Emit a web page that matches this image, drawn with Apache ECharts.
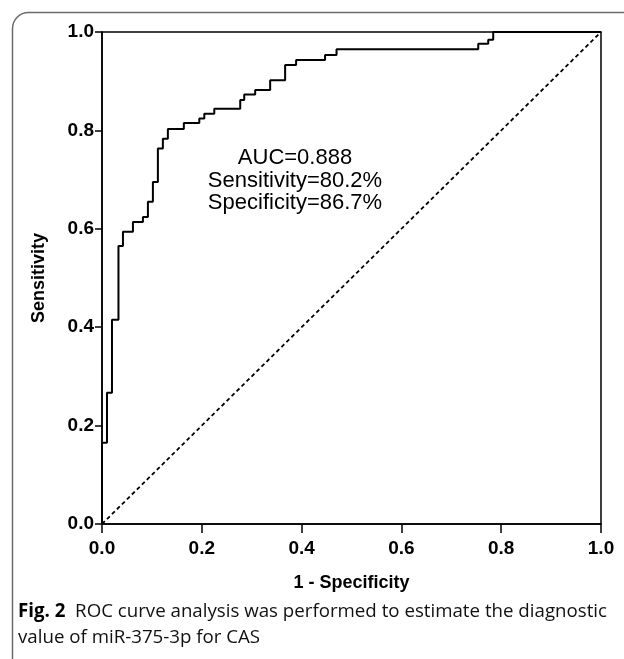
<!DOCTYPE html>
<html>
<head>
<meta charset="utf-8">
<script src="https://cdn.jsdelivr.net/npm/echarts@6/dist/echarts.min.js"></script>
<style>
html,body{margin:0;padding:0;background:#fff;}
#chart{width:624px;height:659px;}
</style>
</head>
<body>
<div id="chart"></div>
<script>
// ROC curve vertices (1 - Specificity, Sensitivity), step after each horizontal run
const rocFpr  = [0, 0, 0.010, 0.020, 0.033, 0.042, 0.062, 0.082, 0.092, 0.102, 0.112, 0.122, 0.132, 0.164, 0.195, 0.205, 0.225, 0.277, 0.285, 0.307, 0.337, 0.367, 0.389, 0.447, 0.470, 0.754, 0.774, 0.784, 1.0];
const rocSens = [0, 0.165, 0.267, 0.415, 0.565, 0.594, 0.614, 0.624, 0.655, 0.695, 0.763, 0.783, 0.803, 0.815, 0.824, 0.834, 0.844, 0.862, 0.873, 0.882, 0.902, 0.933, 0.943, 0.953, 0.965, 0.976, 0.984, 1.0, 1.0];
const refLine = [[0, 0], [1, 1]];
const tickValues = [0, 0.2, 0.4, 0.6, 0.8, 1.0];
const annotation = ['AUC=0.888', 'Sensitivity=80.2%', 'Specificity=86.7%'];
const xTitle = '1 - Specificity';
const yTitle = 'Sensitivity';
const captionBold = 'Fig. 2';
const captionLine1 = 'ROC curve analysis was performed to estimate the diagnostic';
const captionLine2 = 'value of miR-375-3p for CAS';

const chart = echarts.init(document.getElementById('chart'), null, {renderer: 'canvas'});
const axisFont = {fontFamily: '"Liberation Sans Narrow", "Liberation Sans"', fontWeight: 'bold', fontSize: 19, color: '#000'};
const rocData = rocFpr.map((x, i) => [x, rocSens[i]]);

const axisCommon = {
  type: 'value', min: 0, max: 1, interval: 0.2,
  splitLine: {show: false},
  axisLine: {show: true, lineStyle: {color: '#000', width: 1.5}},
  axisTick: {show: true, inside: false, length: 7, lineStyle: {color: '#000', width: 1.5}},
  axisLabel: Object.assign({formatter: v => v.toFixed(1)}, axisFont),
  nameLocation: 'middle',
  nameTextStyle: {fontFamily: 'Liberation Sans', fontWeight: 'bold', fontSize: 18, color: '#000'}
};

chart.setOption({
  animation: false,
  backgroundColor: '#fff',
  grid: {left: 102, top: 32, width: 499, height: 492, show: true, borderColor: '#000', borderWidth: 1.5, backgroundColor: 'transparent'},
  xAxis: Object.assign({}, axisCommon, {name: xTitle, nameGap: 50, axisTick: Object.assign({}, axisCommon.axisTick, {length: 9}), axisLabel: Object.assign({}, axisCommon.axisLabel, {margin: 15})}),
  yAxis: Object.assign({}, axisCommon, {name: yTitle, nameGap: 54, axisLabel: Object.assign({}, axisCommon.axisLabel, {margin: 8})}),
  series: [
    {type: 'line', data: refLine, symbol: 'none', silent: true,
     lineStyle: {color: '#000', width: 1.8, type: [4, 3]}},
    {type: 'line', data: rocData, step: 'end', symbol: 'none', silent: true,
     lineStyle: {color: '#000', width: 2}}
  ],
  graphic: [
    {type: 'rect', shape: {x: 12.5, y: 12.5, width: 700, height: 700, r: 16}, silent: true,
     style: {fill: 'none', stroke: '#6b6b6b', lineWidth: 1.5}},
    {type: 'text', x: 295, y: 158, style: {text: annotation[0], fontFamily: 'Liberation Sans', fontSize: 22, fill: '#000', align: 'center', verticalAlign: 'middle'}},
    {type: 'text', x: 295, y: 180.5, style: {text: annotation[1], fontFamily: 'Liberation Sans', fontSize: 22, fill: '#000', align: 'center', verticalAlign: 'middle'}},
    {type: 'text', x: 295, y: 203, style: {text: annotation[2], fontFamily: 'Liberation Sans', fontSize: 22, fill: '#000', align: 'center', verticalAlign: 'middle'}},
    {type: 'text', x: 18, y: 612, style: {
      text: '{b|' + captionBold + '}  ' + captionLine1,
      rich: {b: {fontFamily: 'Open Sans', fontWeight: 'bold', fontSize: 18.7, fill: '#000'}},
      fontFamily: 'Open Sans', fontSize: 18.7, fill: '#111', verticalAlign: 'middle'}},
    {type: 'text', x: 18, y: 638, style: {text: captionLine2, fontFamily: 'Open Sans', fontSize: 18.7, fill: '#111', verticalAlign: 'middle'}}
  ]
});
</script>
</body>
</html>
